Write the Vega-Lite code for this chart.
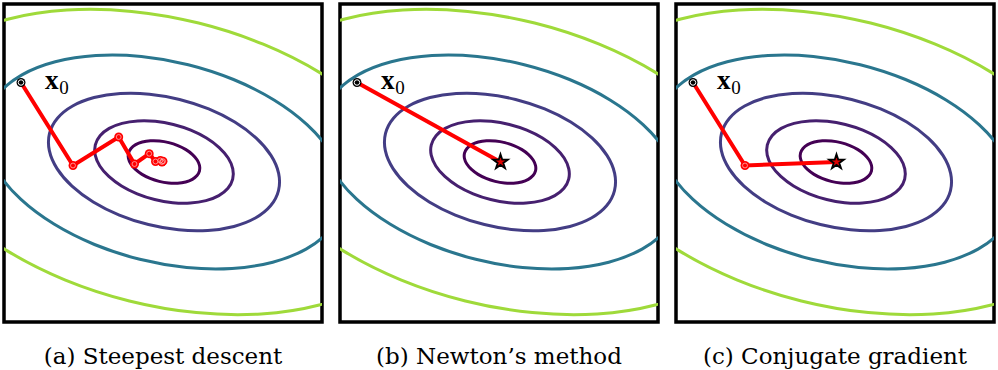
{
  "$schema": "https://vega.github.io/schema/vega-lite/v6.json",
  "padding": {"left": 2, "top": 2, "right": 0, "bottom": 0},
  "background": "white",
  "spacing": 14,
  "config": {
    "view": {"stroke": "black", "strokeWidth": 3.5},
    "title": {"font": "DejaVu Serif", "fontSize": 23, "fontWeight": "normal", "color": "black", "orient": "bottom", "anchor": "middle", "baseline": "alphabetic", "offset": 24}
  },
  "datasets": {
    "contours": [
      {"c":1,"i":0,"x":35.50,"y":-8.85},{"c":1,"i":1,"x":35.54,"y":-3.52},{"c":1,"i":2,"x":33.16,"y":2.04},{"c":1,"i":3,"x":28.52,"y":7.46},{"c":1,"i":4,"x":21.94,"y":12.38},{"c":1,"i":5,"x":13.86,"y":16.45},{"c":1,"i":6,"x":4.84,"y":19.40},{"c":1,"i":7,"x":-4.51,"y":21.03},{"c":1,"i":8,"x":-13.56,"y":21.22},{"c":1,"i":9,"x":-21.68,"y":19.97},{"c":1,"i":10,"x":-28.32,"y":17.36},{"c":1,"i":11,"x":-33.03,"y":13.57},
      {"c":1,"i":12,"x":-35.50,"y":8.85},{"c":1,"i":13,"x":-35.54,"y":3.52},{"c":1,"i":14,"x":-33.16,"y":-2.04},{"c":1,"i":15,"x":-28.52,"y":-7.46},{"c":1,"i":16,"x":-21.94,"y":-12.38},{"c":1,"i":17,"x":-13.86,"y":-16.45},{"c":1,"i":18,"x":-4.84,"y":-19.40},{"c":1,"i":19,"x":4.51,"y":-21.03},{"c":1,"i":20,"x":13.56,"y":-21.22},{"c":1,"i":21,"x":21.68,"y":-19.97},{"c":1,"i":22,"x":28.32,"y":-17.36},{"c":1,"i":23,"x":33.03,"y":-13.57},
      {"c":2,"i":0,"x":68.70,"y":-17.12},{"c":2,"i":1,"x":68.78,"y":-6.82},{"c":2,"i":2,"x":64.18,"y":3.94},{"c":2,"i":3,"x":55.19,"y":14.44},{"c":2,"i":4,"x":42.46,"y":23.95},{"c":2,"i":5,"x":26.82,"y":31.84},{"c":2,"i":6,"x":9.36,"y":37.55},{"c":2,"i":7,"x":-8.74,"y":40.70},{"c":2,"i":8,"x":-26.24,"y":41.08},{"c":2,"i":9,"x":-41.96,"y":38.66},{"c":2,"i":10,"x":-54.82,"y":33.61},{"c":2,"i":11,"x":-63.94,"y":26.26},
      {"c":2,"i":12,"x":-68.70,"y":17.12},{"c":2,"i":13,"x":-68.78,"y":6.82},{"c":2,"i":14,"x":-64.18,"y":-3.94},{"c":2,"i":15,"x":-55.19,"y":-14.44},{"c":2,"i":16,"x":-42.46,"y":-23.95},{"c":2,"i":17,"x":-26.82,"y":-31.84},{"c":2,"i":18,"x":-9.36,"y":-37.55},{"c":2,"i":19,"x":8.74,"y":-40.70},{"c":2,"i":20,"x":26.24,"y":-41.08},{"c":2,"i":21,"x":41.96,"y":-38.66},{"c":2,"i":22,"x":54.82,"y":-33.61},{"c":2,"i":23,"x":63.94,"y":-26.26},
      {"c":3,"i":0,"x":114.50,"y":-28.54},{"c":3,"i":1,"x":114.64,"y":-11.37},{"c":3,"i":2,"x":106.96,"y":6.57},{"c":3,"i":3,"x":91.99,"y":24.07},{"c":3,"i":4,"x":70.76,"y":39.92},{"c":3,"i":5,"x":44.70,"y":53.06},{"c":3,"i":6,"x":15.60,"y":62.58},{"c":3,"i":7,"x":-14.56,"y":67.84},{"c":3,"i":8,"x":-43.74,"y":68.46},{"c":3,"i":9,"x":-69.93,"y":64.43},{"c":3,"i":10,"x":-91.36,"y":56.01},{"c":3,"i":11,"x":-106.56,"y":43.77},
      {"c":3,"i":12,"x":-114.50,"y":28.54},{"c":3,"i":13,"x":-114.64,"y":11.37},{"c":3,"i":14,"x":-106.96,"y":-6.57},{"c":3,"i":15,"x":-91.99,"y":-24.07},{"c":3,"i":16,"x":-70.76,"y":-39.92},{"c":3,"i":17,"x":-44.70,"y":-53.06},{"c":3,"i":18,"x":-15.60,"y":-62.58},{"c":3,"i":19,"x":14.56,"y":-67.84},{"c":3,"i":20,"x":43.74,"y":-68.46},{"c":3,"i":21,"x":69.93,"y":-64.43},{"c":3,"i":22,"x":91.36,"y":-56.01},{"c":3,"i":23,"x":106.56,"y":-43.77},
      {"c":4,"i":0,"x":178.05,"y":-44.38},{"c":4,"i":1,"x":178.27,"y":-17.68},{"c":4,"i":2,"x":166.32,"y":10.22},{"c":4,"i":3,"x":143.04,"y":37.43},{"c":4,"i":4,"x":110.03,"y":62.08},{"c":4,"i":5,"x":69.51,"y":82.51},{"c":4,"i":6,"x":24.26,"y":97.31},{"c":4,"i":7,"x":-22.64,"y":105.49},{"c":4,"i":8,"x":-68.02,"y":106.46},{"c":4,"i":9,"x":-108.74,"y":100.19},{"c":4,"i":10,"x":-142.06,"y":87.10},{"c":4,"i":11,"x":-165.70,"y":68.06},
      {"c":4,"i":12,"x":-178.05,"y":44.38},{"c":4,"i":13,"x":-178.27,"y":17.68},{"c":4,"i":14,"x":-166.32,"y":-10.22},{"c":4,"i":15,"x":-143.04,"y":-37.43},{"c":4,"i":16,"x":-110.03,"y":-62.08},{"c":4,"i":17,"x":-69.51,"y":-82.51},{"c":4,"i":18,"x":-24.26,"y":-97.31},{"c":4,"i":19,"x":22.64,"y":-105.49},{"c":4,"i":20,"x":68.02,"y":-106.46},{"c":4,"i":21,"x":108.74,"y":-100.19},{"c":4,"i":22,"x":142.06,"y":-87.10},{"c":4,"i":23,"x":165.70,"y":-68.06},
      {"c":5,"i":0,"x":254.19,"y":-63.36},{"c":5,"i":1,"x":254.50,"y":-25.24},{"c":5,"i":2,"x":237.45,"y":14.59},{"c":5,"i":3,"x":204.22,"y":53.44},{"c":5,"i":4,"x":157.09,"y":88.62},{"c":5,"i":5,"x":99.23,"y":117.79},{"c":5,"i":6,"x":34.63,"y":138.93},{"c":5,"i":7,"x":-32.32,"y":150.60},{"c":5,"i":8,"x":-97.10,"y":151.98},{"c":5,"i":9,"x":-155.24,"y":143.03},{"c":5,"i":10,"x":-202.82,"y":124.34},{"c":5,"i":11,"x":-236.56,"y":97.17},
      {"c":5,"i":12,"x":-254.19,"y":63.36},{"c":5,"i":13,"x":-254.50,"y":25.24},{"c":5,"i":14,"x":-237.45,"y":-14.59},{"c":5,"i":15,"x":-204.22,"y":-53.44},{"c":5,"i":16,"x":-157.09,"y":-88.62},{"c":5,"i":17,"x":-99.23,"y":-117.79},{"c":5,"i":18,"x":-34.63,"y":-138.93},{"c":5,"i":19,"x":32.32,"y":-150.60},{"c":5,"i":20,"x":97.10,"y":-151.98},{"c":5,"i":21,"x":155.24,"y":-143.03},{"c":5,"i":22,"x":202.82,"y":-124.34},{"c":5,"i":23,"x":236.56,"y":-97.17}
    ],
    "pathA": [
      {"i":0,"x":-143,"y":79.5,"k":"start"},{"i":1,"x":-91,"y":-3.5,"k":"step"},{"i":2,"x":-45.3,"y":25,"k":"step"},{"i":3,"x":-29.5,"y":-2,"k":"step"},{"i":4,"x":-14.8,"y":8.3,"k":"step"},{"i":5,"x":-8.5,"y":0.5,"k":"step"},{"i":6,"x":-3.7,"y":1.5,"k":"step"},{"i":7,"x":-2,"y":0,"k":"step"},{"i":8,"x":-1,"y":0.8,"k":"step"}
    ],
    "pathB": [
      {"i":0,"x":-143,"y":79.5,"k":"start"},{"i":1,"x":0.5,"y":0,"k":"end"}
    ],
    "pathC": [
      {"i":0,"x":-143,"y":79.5,"k":"start"},{"i":1,"x":-91,"y":-3.5,"k":"step"},{"i":2,"x":0.5,"y":0,"k":"end"}
    ]
  },
  "hconcat": [
    {
      "width": 318, "height": 318,
      "title": {"text": "(a) Steepest descent"},
      "encoding": {
        "x": {"field": "x", "type": "quantitative", "scale": {"domain": [-160, 158], "nice": false, "zero": false}, "axis": null},
        "y": {"field": "y", "type": "quantitative", "scale": {"domain": [-160, 158], "nice": false, "zero": false}, "axis": null}
      },
      "layer": [
        {"data": {"name": "contours"}, "mark": {"type": "line", "interpolate": "cardinal-closed", "clip": true, "strokeWidth": 3},
         "encoding": {"color": {"field": "c", "type": "nominal", "scale": {"domain": [1,2,3,4,5], "range": ["#440154", "#46206f", "#433d84", "#2a768e", "#9fda3a"]}, "legend": null}, "order": {"field": "i", "type": "quantitative"}}},
        {"data": {"name": "pathA"}, "mark": {"type": "line", "color": "#ff0000", "strokeWidth": 4}, "encoding": {"order": {"field": "i", "type": "quantitative"}}},
        {"data": {"name": "pathA"}, "transform": [{"filter": "datum.k == 'step'"}], "mark": {"type": "point", "shape": "circle", "filled": true, "color": "#ff0000", "size": 80, "opacity": 1}, "encoding": {}},
        {"data": {"name": "pathA"}, "transform": [{"filter": "datum.k == 'step'"}], "mark": {"type": "point", "shape": "circle", "filled": false, "stroke": "#ffb0b0", "strokeWidth": 0.8, "size": 24, "opacity": 1}, "encoding": {}},
        {"data": {"name": "pathA"}, "transform": [{"filter": "datum.k == 'start'"}], "mark": {"type": "point", "shape": "circle", "filled": true, "color": "black", "size": 80, "opacity": 1}, "encoding": {}},
        {"data": {"name": "pathA"}, "transform": [{"filter": "datum.k == 'start'"}], "mark": {"type": "point", "shape": "circle", "filled": false, "stroke": "white", "strokeWidth": 1, "size": 30, "opacity": 1}, "encoding": {}},
        {"data": {"name": "pathA"}, "transform": [{"filter": "datum.k == 'start'"}], "mark": {"type": "text", "text": "x", "font": "Liberation Serif", "fontWeight": "bold", "fontSize": 27, "align": "left", "baseline": "alphabetic", "dx": 24, "dy": 6.6, "color": "black"}, "encoding": {}},
        {"data": {"name": "pathA"}, "transform": [{"filter": "datum.k == 'start'"}], "mark": {"type": "text", "text": "0", "font": "Liberation Serif", "fontSize": 19, "align": "left", "baseline": "alphabetic", "dx": 38.3, "dy": 11.3, "color": "black"}, "encoding": {}}
      ]
    },
    {
      "width": 318, "height": 318,
      "title": {"text": "(b) Newton’s method"},
      "encoding": {
        "x": {"field": "x", "type": "quantitative", "scale": {"domain": [-160, 158], "nice": false, "zero": false}, "axis": null},
        "y": {"field": "y", "type": "quantitative", "scale": {"domain": [-160, 158], "nice": false, "zero": false}, "axis": null}
      },
      "layer": [
        {"data": {"name": "contours"}, "mark": {"type": "line", "interpolate": "cardinal-closed", "clip": true, "strokeWidth": 3},
         "encoding": {"color": {"field": "c", "type": "nominal", "scale": {"domain": [1,2,3,4,5], "range": ["#440154", "#46206f", "#433d84", "#2a768e", "#9fda3a"]}, "legend": null}, "order": {"field": "i", "type": "quantitative"}}},
        {"data": {"name": "pathB"}, "mark": {"type": "line", "color": "#ff0000", "strokeWidth": 4}, "encoding": {"order": {"field": "i", "type": "quantitative"}}},
        {"data": {"name": "pathB"}, "transform": [{"filter": "datum.k == 'start'"}], "mark": {"type": "point", "shape": "circle", "filled": true, "color": "black", "size": 80, "opacity": 1}, "encoding": {}},
        {"data": {"name": "pathB"}, "transform": [{"filter": "datum.k == 'start'"}], "mark": {"type": "point", "shape": "circle", "filled": false, "stroke": "white", "strokeWidth": 1, "size": 30, "opacity": 1}, "encoding": {}},
        {"data": {"name": "pathB"}, "transform": [{"filter": "datum.k == 'end'"}], "mark": {"type": "point", "shape": "M0,-1L0.2245,-0.309L0.951,-0.309L0.363,0.118L0.588,0.809L0,0.382L-0.588,0.809L-0.363,0.118L-0.951,-0.309L-0.2245,-0.309Z", "filled": true, "fill": "#e00000", "stroke": "black", "strokeWidth": 1.8, "size": 240, "opacity": 1}, "encoding": {}},
        {"data": {"name": "pathB"}, "transform": [{"filter": "datum.k == 'start'"}], "mark": {"type": "text", "text": "x", "font": "Liberation Serif", "fontWeight": "bold", "fontSize": 27, "align": "left", "baseline": "alphabetic", "dx": 24, "dy": 6.6, "color": "black"}, "encoding": {}},
        {"data": {"name": "pathB"}, "transform": [{"filter": "datum.k == 'start'"}], "mark": {"type": "text", "text": "0", "font": "Liberation Serif", "fontSize": 19, "align": "left", "baseline": "alphabetic", "dx": 38.3, "dy": 11.3, "color": "black"}, "encoding": {}}
      ]
    },
    {
      "width": 318, "height": 318,
      "title": {"text": "(c) Conjugate gradient"},
      "encoding": {
        "x": {"field": "x", "type": "quantitative", "scale": {"domain": [-160, 158], "nice": false, "zero": false}, "axis": null},
        "y": {"field": "y", "type": "quantitative", "scale": {"domain": [-160, 158], "nice": false, "zero": false}, "axis": null}
      },
      "layer": [
        {"data": {"name": "contours"}, "mark": {"type": "line", "interpolate": "cardinal-closed", "clip": true, "strokeWidth": 3},
         "encoding": {"color": {"field": "c", "type": "nominal", "scale": {"domain": [1,2,3,4,5], "range": ["#440154", "#46206f", "#433d84", "#2a768e", "#9fda3a"]}, "legend": null}, "order": {"field": "i", "type": "quantitative"}}},
        {"data": {"name": "pathC"}, "mark": {"type": "line", "color": "#ff0000", "strokeWidth": 4}, "encoding": {"order": {"field": "i", "type": "quantitative"}}},
        {"data": {"name": "pathC"}, "transform": [{"filter": "datum.k == 'step'"}], "mark": {"type": "point", "shape": "circle", "filled": true, "color": "#ff0000", "size": 80, "opacity": 1}, "encoding": {}},
        {"data": {"name": "pathC"}, "transform": [{"filter": "datum.k == 'step'"}], "mark": {"type": "point", "shape": "circle", "filled": false, "stroke": "#ffb0b0", "strokeWidth": 0.8, "size": 24, "opacity": 1}, "encoding": {}},
        {"data": {"name": "pathC"}, "transform": [{"filter": "datum.k == 'start'"}], "mark": {"type": "point", "shape": "circle", "filled": true, "color": "black", "size": 80, "opacity": 1}, "encoding": {}},
        {"data": {"name": "pathC"}, "transform": [{"filter": "datum.k == 'start'"}], "mark": {"type": "point", "shape": "circle", "filled": false, "stroke": "white", "strokeWidth": 1, "size": 30, "opacity": 1}, "encoding": {}},
        {"data": {"name": "pathC"}, "transform": [{"filter": "datum.k == 'end'"}], "mark": {"type": "point", "shape": "M0,-1L0.2245,-0.309L0.951,-0.309L0.363,0.118L0.588,0.809L0,0.382L-0.588,0.809L-0.363,0.118L-0.951,-0.309L-0.2245,-0.309Z", "filled": true, "fill": "#e00000", "stroke": "black", "strokeWidth": 1.8, "size": 240, "opacity": 1}, "encoding": {}},
        {"data": {"name": "pathC"}, "transform": [{"filter": "datum.k == 'start'"}], "mark": {"type": "text", "text": "x", "font": "Liberation Serif", "fontWeight": "bold", "fontSize": 27, "align": "left", "baseline": "alphabetic", "dx": 24, "dy": 6.6, "color": "black"}, "encoding": {}},
        {"data": {"name": "pathC"}, "transform": [{"filter": "datum.k == 'start'"}], "mark": {"type": "text", "text": "0", "font": "Liberation Serif", "fontSize": 19, "align": "left", "baseline": "alphabetic", "dx": 38.3, "dy": 11.3, "color": "black"}, "encoding": {}}
      ]
    }
  ]
}
